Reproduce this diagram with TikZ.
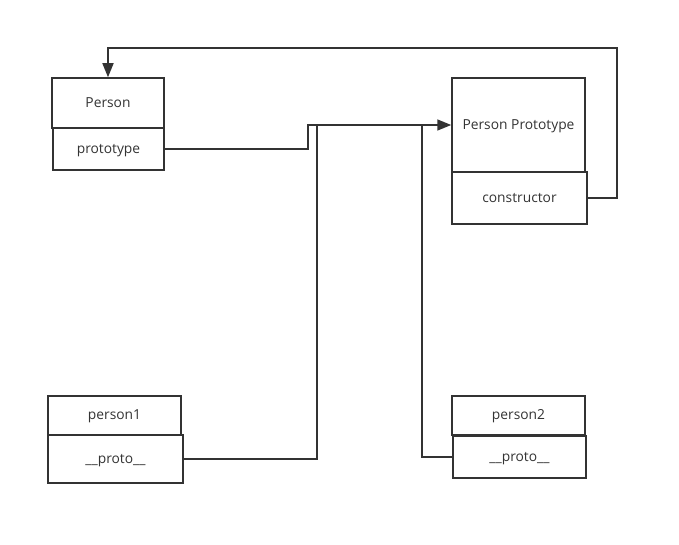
\documentclass[tikz,border=0pt]{standalone}
\usepackage{fontspec}
\setmainfont{Open Sans}
\usetikzlibrary{arrows.meta}
\definecolor{ink}{HTML}{333333}
\tikzset{
    box/.style = {draw = ink, line width = 1.5pt, inner sep = 0pt,
        text height = 1.6ex, text depth = 0pt,
        font = \fontsize{13.8}{16}\selectfont, text = ink},
    link/.style = {draw = ink, line width = 1.6pt},
    tip/.style = {-{Triangle[length = 14pt, width = 11pt]}}
}
\begin{document}
\begin{tikzpicture}[x = 1pt, y = -1pt]
            \useasboundingbox (0, 0) rectangle (679, 545);

            \node [box, minimum width = 112pt, minimum height = 50pt] (person) at (108, 103) {Person};
            \node [box, minimum width = 111pt, minimum height = 42pt] (prototype) at (108.5, 149) {prototype};
            \node [box, minimum width = 133pt, minimum height = 94pt] (pp) at (518.5, 125) {Person Prototype};
            \node [box, minimum width = 135pt, minimum height = 52pt] (ctor) at (519.5, 198) {constructor};
            \node [box, minimum width = 133pt, minimum height = 39pt] (person1) at (114.5, 415.5) {person1};
            \node [box, minimum width = 135pt, minimum height = 48pt] (proto1) at (115.5, 459) {\_\_proto\_\_};
            \node [box, minimum width = 133pt, minimum height = 39pt] (person2) at (518.5, 415.5) {person2};
            \node [box, minimum width = 133pt, minimum height = 42pt] (proto2) at (519.5, 457) {\_\_proto\_\_};

            \coordinate (j1) at (317, 125);
            \coordinate (j2) at (422, 125);
            \coordinate (loop) at (617, 48);

            \draw [link, tip] (prototype.east) -- ++(143, 0) coordinate (bend) |- (pp.west);
            \draw [link] (proto1.east) -| (j1);
            \draw [link] (proto2.west) -| (j2);
            \draw [link, tip] (ctor.east) -| (loop) -| (person.north);
        \end{tikzpicture}
\end{document}
